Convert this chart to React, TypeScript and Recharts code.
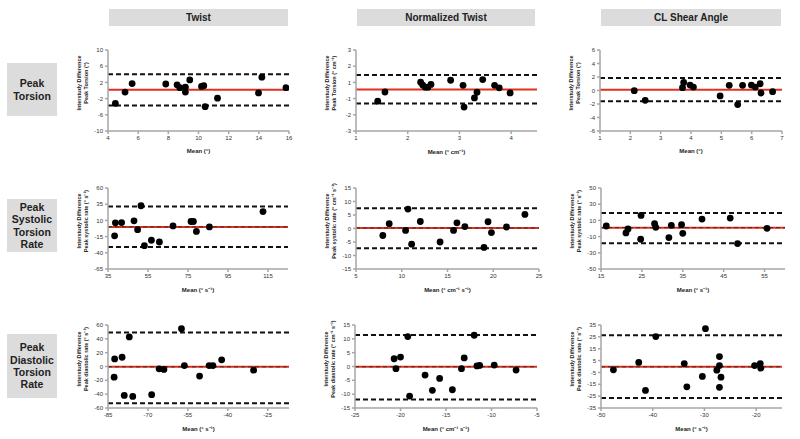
import { ReferenceLine, Scatter, ScatterChart, XAxis, YAxis } from "recharts";

const colTitles = ["Twist", "Normalized Twist", "CL Shear Angle"];
const rowTitles = [
  ["Peak", "Torsion"],
  ["Peak", "Systolic", "Torsion", "Rate"],
  ["Peak", "Diastolic", "Torsion", "Rate"],
];

// peak torsion
const torTwistX = [4.49, 5.13, 5.6, 7.83, 8.58, 8.76, 9.13, 9.13, 9.42, 10.2, 10.35, 10.44, 11.26, 13.98, 14.2, 15.8];
const torTwistY = [-3.2, -0.4, 1.7, 1.6, 1.4, 0.7, 0.8, -0.4, 2.6, 1.0, 1.2, -4.0, -1.9, -0.6, 3.3, 0.7];
const torNormX = [1.42, 1.56, 2.25, 2.29, 2.34, 2.39, 2.45, 2.83, 3.07, 3.09, 3.29, 3.34, 3.45, 3.68, 3.77, 3.98];
const torNormY = [-0.79, -0.11, 0.62, 0.4, 0.25, 0.25, 0.45, 0.76, 0.38, -1.23, -0.55, -0.13, 0.81, 0.38, 0.2, -0.18];
const torShearX = [2.13, 2.49, 3.72, 3.76, 3.97, 4.08, 4.96, 5.26, 5.54, 5.7, 5.99, 6.12, 6.28, 6.31, 6.69];
const torShearY = [-0.02, -1.45, 0.42, 1.2, 0.81, 0.51, -0.81, 0.76, -2.08, 0.76, 0.81, 0.51, 1.0, -0.37, -0.17];

// peak systolic torsion rate
const sysTwistX = [38.3, 38.7, 41.8, 48, 49.8, 51.5, 53.2, 56.7, 60.7, 67.5, 76.5, 77.7, 79.2, 85.7, 112.5];
const sysTwistY = [-13.8, 6.2, 6.7, 9.4, -4.3, 32.6, -29, -20.6, -23.3, 1.5, 8.3, 8.3, -7, 0, 23.6];
const sysNormX = [7.93, 8.63, 10.42, 10.68, 11.08, 12.03, 14.19, 15.66, 16.03, 16.9, 18.99, 19.43, 19.8, 21.45, 23.46];
const sysNormY = [-2.6, 1.8, -0.7, 7.2, -5.8, 2.6, -5, -0.7, 2.1, 0.7, -7, 2.5, -1.5, 0.55, 5.2];
const sysShearX = [16.3, 21.1, 21.6, 24.8, 24.7, 28.1, 28.4, 31.6, 32.2, 34.7, 35, 39.7, 46.6, 48.4, 55.6];
const sysShearY = [3.1, -5.5, -0.6, 16.1, -13.3, 5.9, 1.4, -11.2, 3.9, 4.7, -5.9, 11.6, 12.9, -18.6, 0.2];

// peak diastolic torsion rate
const diaTwistX = [-82.7, -82.5, -79.7, -78.9, -77, -75.7, -68.6, -65.8, -64, -57.4, -56.3, -50.6, -47, -45.6, -42.3, -30.3];
const diaTwistY = [-15.4, 11, 13.4, -41.8, 42.7, -43.2, -40.8, -3.4, -4.3, 54.7, 1.4, -13.9, 1.4, 1.4, 9.6, -5.3];
const diaNormX = [-20.7, -20.5, -20, -19.2, -19, -17.3, -16.5, -15.7, -14.3, -13.3, -13, -11.9, -11.6, -11.3, -9.7, -7.3];
const diaNormY = [2.8, -0.8, 3.4, 10.8, -10.7, -3.1, -8.6, -4.3, -8.4, -0.8, 3.1, 11.3, 0.2, 0.4, 0.5, -1.3];
const diaShearX = [-47.6, -42.7, -41.4, -39.4, -33.9, -33.4, -30.4, -29.8, -27.6, -27.1, -27.1, -26.8, -27.1, -20.3, -19.2, -19.1];
const diaShearY = [-2.8, 3.4, -20.2, 25.2, 2.5, -17.1, -8.4, 31.9, -3.1, 8.4, 0.8, -9, -17.6, 0.8, 2.5, -1.4];

// bias, upper and lower limits of agreement
const torLines = [[0.2, 4.0, -3.7], [0.08, 1.15, -0.97], [0.12, 1.84, -1.59]];
const sysLines = [[0, 31.6, -31.2], [0.2, 7.5, -7.3], [1, 19, -18.2]];
const diaLines = [[-0.5, 49, -53], [-0.1, 11.4, -11.9], [-0.3, 26.3, -26.6]];

const FONT = "'Liberation Sans', Arial, sans-serif";

type PanelProps = {
  left: number;
  top: number;
  w: number;
  h: number;
  xs: number[];
  ys: number[];
  lines: number[];
  xDomain: number[];
  xTicks: number[];
  yDomain: number[];
  yTicks: number[];
  fmt?: (v: number) => string;
  yLabel: string;
  xLabel: string;
  darkMean?: boolean;
};

const Dot = (p: any) => <circle cx={p.cx} cy={p.cy} r={3.4} fill="#000" />;

function Panel(p: PanelProps) {
  const pts = p.xs.map((x, i) => ({ x, y: p.ys[i] }));
  const L = 52, T = 6, R = 6, B = 30;
  const tick = { fontSize: 6, fill: "#333", fontFamily: FONT };
  return (
    <>
      <div style={{ position: "absolute", left: p.left - L, top: p.top - T }}>
        <ScatterChart width={p.w + L + R} height={p.h + T + B} margin={{ top: T, right: R, left: 0, bottom: 0 }}>
          <XAxis
            type="number"
            dataKey="x"
            domain={p.xDomain}
            ticks={p.xTicks}
            interval={0}
            height={B}
            allowDataOverflow
            tick={tick}
            tickSize={3}
            stroke="#a6a6a6"
            strokeWidth={1.5}
          />
          <YAxis
            type="number"
            dataKey="y"
            domain={p.yDomain}
            ticks={p.yTicks}
            interval={0}
            width={L}
            allowDataOverflow
            tick={tick}
            tickSize={3}
            tickFormatter={p.fmt}
            stroke="#a6a6a6"
            strokeWidth={1.5}
          />
          <ReferenceLine y={p.lines[1]} stroke="#111" strokeWidth={2} strokeDasharray="5 3" />
          <ReferenceLine y={p.lines[2]} stroke="#111" strokeWidth={2} strokeDasharray="5 3" />
          <ReferenceLine y={p.lines[0]} stroke="#e0301e" strokeWidth={2} />
          {p.darkMean && <ReferenceLine y={p.lines[0]} stroke="#222" strokeWidth={0.8} strokeDasharray="4 3" />}
          <Scatter data={pts} isAnimationActive={false} shape={Dot} />
        </ScatterChart>
      </div>
      <div
        style={{
          position: "absolute",
          left: p.left + p.w / 2 - 60,
          top: p.top + p.h + 17,
          width: 120,
          textAlign: "center",
          fontFamily: FONT,
          fontSize: 6,
          fontWeight: "bold",
          color: "#222",
        }}
      >
        {p.xLabel}
      </div>
      <div
        style={{
          position: "absolute",
          left: p.left - 25 - 50,
          top: p.top + p.h / 2 - 8 - 7,
          width: 100,
          height: 14,
          transform: "rotate(-90deg)",
          textAlign: "center",
          fontFamily: FONT,
          fontSize: 5.5,
          lineHeight: "6.5px",
          fontWeight: "bold",
          color: "#222",
          whiteSpace: "nowrap",
        }}
      >
        <div>Interstudy Difference</div>
        <div>{p.yLabel}</div>
      </div>
    </>
  );
}

const round = (v: number) => String(Math.round(v));

export default function App() {
  const headBox = { position: "absolute" as const, background: "#dcdcdc", fontFamily: FONT, fontWeight: "bold" as const, color: "#222" };
  const colBoxes = [
    [109, 179],
    [357, 178],
    [601, 180],
  ];
  const rowBoxes = [
    [63, 53],
    [199, 53],
    [334, 64],
  ];
  return (
    <div style={{ position: "absolute", left: 0, top: 0, width: 800, height: 439, background: "#fff", overflow: "hidden" }}>
      {colTitles.map((t, i) => (
        <div
          key={t}
          style={{ ...headBox, left: colBoxes[i][0], top: 9, width: colBoxes[i][1], height: 17, fontSize: 10, lineHeight: "17px", textAlign: "center" }}
        >
          {t}
        </div>
      ))}
      {rowTitles.map((lines, i) => (
        <div
          key={i}
          style={{
            ...headBox,
            left: 7,
            top: rowBoxes[i][0],
            width: 50,
            height: rowBoxes[i][1],
            fontSize: 10.5,
            lineHeight: "12.3px",
            textAlign: "center",
            display: "flex",
            flexDirection: "column",
            justifyContent: "center",
          }}
        >
          {lines.map((l) => (
            <div key={l}>{l}</div>
          ))}
        </div>
      ))}

      <Panel left={108} top={50} w={181} h={81} xs={torTwistX} ys={torTwistY} lines={torLines[0]}
        xDomain={[4, 16]} xTicks={[4, 6, 8, 10, 12, 14, 16]} yDomain={[-10, 10]} yTicks={[-10, -6, -2, 2, 6, 10]}
        yLabel="Peak Torsion (°)" xLabel="Mean (°)" />
      <Panel left={356} top={50} w={181} h={81} xs={torNormX} ys={torNormY} lines={torLines[1]}
        xDomain={[1, 4.5]} xTicks={[1, 2, 3, 4]} yDomain={[-3, 3]} yTicks={[-3, -1.8, -0.6, 0.6, 1.8, 3]} fmt={round}
        yLabel="Peak Torsion (° cm⁻¹)" xLabel="Mean (° cm⁻¹)" />
      <Panel left={600} top={50} w={182} h={81} xs={torShearX} ys={torShearY} lines={torLines[2]}
        xDomain={[1, 7]} xTicks={[1, 2, 3, 4, 5, 6, 7]} yDomain={[-6, 6]} yTicks={[-6, -4, -2, 0, 2, 4, 6]}
        yLabel="Peak Torsion (°)" xLabel="Mean (°)" />

      <Panel left={108} top={188} w={180} h={81} xs={sysTwistX} ys={sysTwistY} lines={sysLines[0]}
        xDomain={[35, 125]} xTicks={[35, 55, 75, 95, 115]} yDomain={[-65, 60]} yTicks={[-65, -40, -15, 10, 35, 60]}
        yLabel="Peak systolic rate (° s⁻¹)" xLabel="Mean (° s⁻¹)" darkMean />
      <Panel left={356} top={188} w={183} h={81} xs={sysNormX} ys={sysNormY} lines={sysLines[1]}
        xDomain={[5, 25]} xTicks={[5, 10, 15, 20, 25]} yDomain={[-15, 15]} yTicks={[-15, -10, -5, 0, 5, 10, 15]}
        yLabel="Peak systolic rate (° cm⁻¹ s⁻¹)" xLabel="Mean (° cm⁻¹ s⁻¹)" darkMean />
      <Panel left={601} top={188} w={184} h={81} xs={sysShearX} ys={sysShearY} lines={sysLines[2]}
        xDomain={[15, 60]} xTicks={[15, 25, 35, 45, 55]} yDomain={[-50, 50]} yTicks={[-50, -30, -10, 10, 30, 50]}
        yLabel="Peak systolic rate (° s⁻¹)" xLabel="Mean (° s⁻¹)" darkMean />

      <Panel left={108} top={325} w={181} h={83} xs={diaTwistX} ys={diaTwistY} lines={diaLines[0]}
        xDomain={[-85, -17]} xTicks={[-85, -70, -55, -40, -25]} yDomain={[-60, 60]} yTicks={[-60, -40, -20, 0, 20, 40, 60]}
        yLabel="Peak diastolic rate (° s⁻¹)" xLabel="Mean (° s⁻¹)" darkMean />
      <Panel left={355} top={325} w={182} h={83} xs={diaNormX} ys={diaNormY} lines={diaLines[1]}
        xDomain={[-25, -5]} xTicks={[-25, -20, -15, -10, -5]} yDomain={[-15, 15]} yTicks={[-15, -10, -5, 0, 5, 10, 15]}
        yLabel="Peak diastolic rate (° cm⁻¹ s⁻¹)" xLabel="Mean (° cm⁻¹ s⁻¹)" darkMean />
      <Panel left={601} top={325} w={181} h={83} xs={diaShearX} ys={diaShearY} lines={diaLines[2]}
        xDomain={[-50, -15]} xTicks={[-50, -40, -30, -20]} yDomain={[-35, 35]} yTicks={[-35, -25, -15, -5, 5, 15, 25, 35]}
        yLabel="Peak diastolic rate (° s⁻¹)" xLabel="Mean (° s⁻¹)" darkMean />
    </div>
  );
}
